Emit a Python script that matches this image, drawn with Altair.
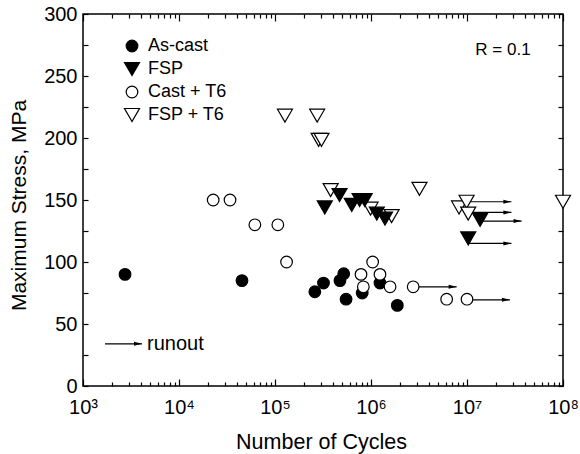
import altair as alt
import pandas as pd

# ---- data ----
ascast_n = [2740, 45300, 2.6e5, 3.2e5, 4.75e5, 5.2e5, 5.5e5, 8.1e5, 1.24e6, 1.88e6]
ascast_s = [90, 85, 76, 83, 85, 90.5, 70, 75, 83, 65]

castt6_n = [22700, 34000, 61700, 107000, 132000, 787000, 1.04e6, 1.24e6, 832000, 1.58e6, 2.75e6, 6.14e6, 1.0e7]
castt6_s = [150, 150, 130, 130, 100, 90, 100, 90, 80, 80, 80, 70, 70]

fspt6_n = [1.27e5, 2.75e5, 2.85e5, 3.05e5, 3.8e5, 9.9e5, 1.64e6, 3.2e6, 8.26e6, 9.9e6, 1.03e7, 1.0e8]
fspt6_s = [218, 218, 198.5, 198.5, 158, 143, 137, 159, 144, 148.6, 139, 148.6]

fsp_n = [3.3e5, 4.7e5, 6.3e5, 7.6e5, 8.6e5, 1.15e6, 1.4e6, 1.37e7, 1.03e7]
fsp_s = [144, 154, 146, 150, 150, 139, 135, 134, 119]

series_order = ["As-cast", "FSP", "Cast + T6", "FSP + T6"]

# runout arrows
arrow_start_n = [2.75e6, 1.0e7, 1.0e7, 1.05e7, 1.37e7, 1.03e7]
arrow_end_n = [7.8e6, 2.8e7, 2.9e7, 2.9e7, 3.7e7, 2.9e7]
arrow_s = [80, 69.5, 148.6, 140, 133, 115]

# legend "runout" key arrow
key_start_n = [1695]
key_end_n = [4120]
key_s = [34]
key_text_n = [4640]
key_text_s = [34]

r_text_n = [4.6e7]
r_text_s = [271]

x_major = [1e3, 1e4, 1e5, 1e6, 1e7, 1e8]
x_minor = [k * 10 ** e for e in range(3, 8) for k in range(2, 10)]
y_major = [0, 50, 100, 150, 200, 250, 300]
y_all = list(range(0, 301, 25))

FONT = "Liberation Sans"

# ---- tables ----
pts = pd.concat([
    pd.DataFrame({"N": ascast_n, "S": ascast_s, "series": "As-cast"}),
    pd.DataFrame({"N": castt6_n, "S": castt6_s, "series": "Cast + T6"}),
    pd.DataFrame({"N": fspt6_n, "S": fspt6_s, "series": "FSP + T6"}),
    pd.DataFrame({"N": fsp_n, "S": fsp_s, "series": "FSP"}),
], ignore_index=True)

arrows = pd.DataFrame({"N": arrow_start_n, "N2": arrow_end_n, "S": arrow_s})
key = pd.DataFrame({"N": key_start_n, "N2": key_end_n, "S": key_s})
all_arrows = pd.concat([arrows, key], ignore_index=True)
key_text = pd.DataFrame({"N": key_text_n, "S": key_text_s, "t": ["runout"]})
r_text = pd.DataFrame({"N": r_text_n, "S": r_text_s, "t": ["R = 0.1"]})

XS = alt.Scale(type="log", domain=[1e3, 1e8])
YS = alt.Scale(domain=[0, 300])

sup_expr = ("'10' + substring('\u2070\u00b9\u00b2\u00b3\u2074\u2075\u2076\u2077\u2078\u2079', "
            "round(log(datum.value)/LN10), round(log(datum.value)/LN10)+1)")

x_main = alt.Axis(values=x_major, ticks=False, domain=False, grid=False,
                  labelExpr=sup_expr, labelFontSize=20, labelFlush=False,
                  labelOverlap=False, labelBaseline="alphabetic", labelPadding=27,
                  labelColor="black", labelFont=FONT,
                  title="Number of Cycles", titleFontSize=21.5, titleFont=FONT,
                  titleFontWeight="normal", titleColor="black",
                  titleX=238, titleY=62, titleBaseline="alphabetic")
y_main = alt.Axis(values=y_major, ticks=False, domain=False, grid=False,
                  labelFontSize=20, labelPadding=6, labelColor="black",
                  labelFont=FONT, labelFlush=False, labelOverlap=False,
                  labelBaseline="middle",
                  title="Maximum Stress, MPa", titleFontSize=21, titleFont=FONT,
                  titleFontWeight="normal", titleColor="black",
                  titleX=-64, titleY=191, titleBaseline="middle")

rules = alt.Chart(all_arrows).mark_rule(color="black", strokeWidth=1.2).encode(
    x=alt.X("N:Q", scale=XS, axis=None),
    x2="N2:Q",
    y=alt.Y("S:Q", scale=YS, axis=None),
)
heads = alt.Chart(all_arrows).mark_point(
    shape="M-4,-1L0,0L-4,1Z", size=16, filled=True, color="black", opacity=1
).encode(
    x=alt.X("N2:Q", scale=XS, axis=None),
    y=alt.Y("S:Q", scale=YS, axis=None),
)

points = alt.Chart(pts).mark_point(
    filled=True, strokeWidth=1.2, opacity=1
).encode(
    x=alt.X("N:Q", scale=XS, axis=x_main),
    y=alt.Y("S:Q", scale=YS, axis=y_main),
    shape=alt.Shape("series:N", scale=alt.Scale(
        domain=series_order,
        range=["circle", "triangle-down", "circle", "triangle-down"])),
    fill=alt.Fill("series:N", scale=alt.Scale(
        domain=series_order, range=["black", "black", "white", "white"])),
    stroke=alt.Stroke("series:N", scale=alt.Scale(
        domain=series_order, range=["black", "black", "black", "black"])),
    size=alt.Size("series:N", scale=alt.Scale(
        type="ordinal", domain=series_order, range=[135, 225, 135, 225])),
)

ktext = alt.Chart(key_text).mark_text(
    align="left", baseline="middle", fontSize=20, font=FONT, color="black"
).encode(
    x=alt.X("N:Q", scale=XS, axis=None),
    y=alt.Y("S:Q", scale=YS, axis=None),
    text="t:N",
)
rtext = alt.Chart(r_text).mark_text(
    align="right", baseline="middle", fontSize=17, font=FONT, color="black"
).encode(
    x=alt.X("N:Q", scale=XS, axis=None),
    y=alt.Y("S:Q", scale=YS, axis=None),
    text="t:N",
)


def tick_axis(orient, values, size):
    return alt.Axis(orient=orient, values=values, tickSize=size, offset=-size,
                    domain=False, labels=False, title=None, grid=False,
                    ticks=True, tickColor="black", tickWidth=1.2)


def tick_layer(xaxis=None, yaxis=None):
    return alt.Chart(pts).mark_point(opacity=0).encode(
        x=alt.X("N:Q", scale=XS, axis=xaxis),
        y=alt.Y("S:Q", scale=YS, axis=yaxis),
    )


tick_layers = [
    tick_layer(xaxis=tick_axis("bottom", x_major, 7)),
    tick_layer(xaxis=tick_axis("bottom", x_minor, 4)),
    tick_layer(xaxis=tick_axis("top", x_major, 7)),
    tick_layer(xaxis=tick_axis("top", x_minor, 4)),
    tick_layer(yaxis=tick_axis("left", y_all, 5)),
    tick_layer(yaxis=tick_axis("right", y_all, 5)),
]

chart = alt.layer(rules, heads, points, ktext, rtext, *tick_layers).resolve_axis(
    x="independent", y="independent"
).properties(
    width=480, height=372,
    autosize=alt.AutoSizeParams(type="none"),
    padding={"left": 83, "top": 14, "right": 17, "bottom": 68},
    background="white",
).configure_view(
    stroke="black", strokeWidth=1.5, fill="white"
).configure_legend(
    orient="none", legendX=40, legendY=23, title=None,
    labelFontSize=18, labelFont=FONT, labelColor="black",
    labelOffset=7, rowPadding=5, padding=0,
    symbolStrokeWidth=1.2,
)

chart.save("out.html", embed_options={"renderer": "svg", "actions": False})
